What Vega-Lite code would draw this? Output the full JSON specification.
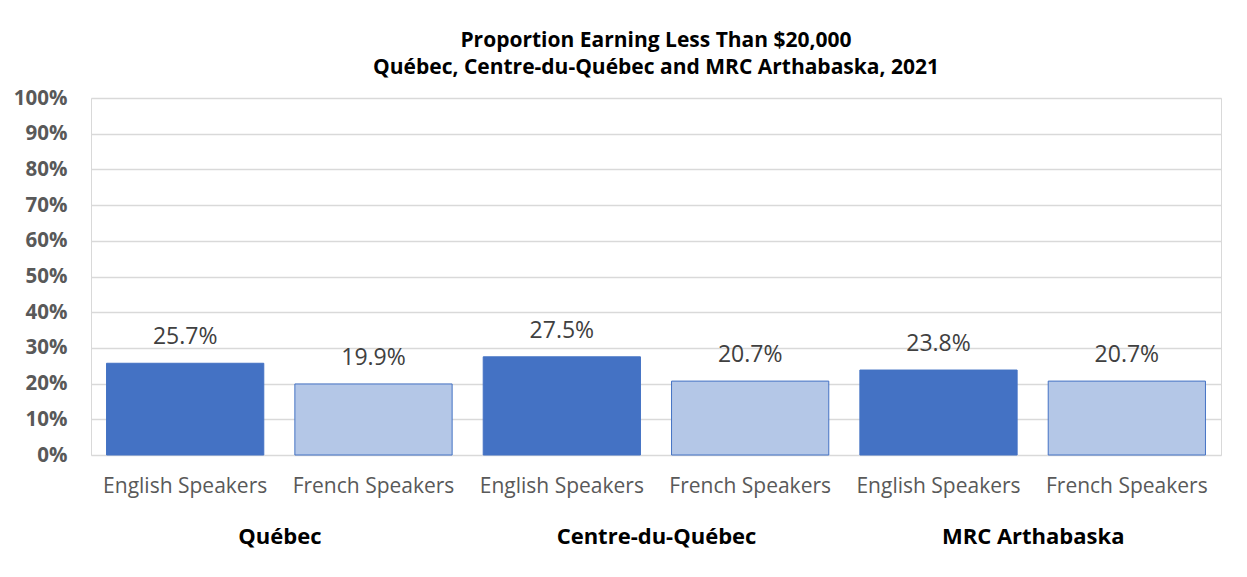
{
  "$schema": "https://vega.github.io/schema/vega-lite/v6.json",
  "width": 1130,
  "height": 357,
  "padding": {"left": 13, "top": 30, "right": 25, "bottom": 10},
  "background": "white",
  "title": {
    "text": ["Proportion Earning Less Than $20,000", "Québec, Centre-du-Québec and MRC Arthabaska,  2021"],
    "font": "Open Sans",
    "fontSize": 21,
    "fontWeight": "bold",
    "color": "#000000",
    "lineHeight": 27,
    "offset": 10,
    "anchor": "middle"
  },
  "config": {
    "view": {"stroke": "#d9d9d9", "strokeWidth": 1},
    "font": "Open Sans"
  },
  "datasets": {
    "bars": [
      {"cat": "Québec|English Speakers", "region": "Québec", "speaker": "English Speakers", "value": 0.257},
      {"cat": "Québec|French Speakers", "region": "Québec", "speaker": "French Speakers", "value": 0.199},
      {"cat": "Centre-du-Québec|English Speakers", "region": "Centre-du-Québec", "speaker": "English Speakers", "value": 0.275},
      {"cat": "Centre-du-Québec|French Speakers", "region": "Centre-du-Québec", "speaker": "French Speakers", "value": 0.207},
      {"cat": "MRC Arthabaska|English Speakers", "region": "MRC Arthabaska", "speaker": "English Speakers", "value": 0.238},
      {"cat": "MRC Arthabaska|French Speakers", "region": "MRC Arthabaska", "speaker": "French Speakers", "value": 0.207}
    ],
    "regions": [
      {"region": "Québec"},
      {"region": "Centre-du-Québec"},
      {"region": "MRC Arthabaska"}
    ]
  },
  "resolve": {"scale": {"x": "independent"}, "axis": {"x": "independent"}},
  "layer": [
    {
      "data": {"name": "bars"},
      "encoding": {
        "x": {
          "field": "cat", "type": "nominal", "sort": null,
          "scale": {"paddingInner": 0.165, "paddingOuter": 0.0825},
          "axis": {
            "title": null, "labelAngle": 0, "ticks": false, "domain": false,
            "labelExpr": "split(datum.label, '|')[1]",
            "labelFont": "Open Sans", "labelFontSize": 21, "labelColor": "#595959",
            "labelPadding": 20, "labelLimit": 0
          }
        },
        "y": {
          "field": "value", "type": "quantitative",
          "scale": {"domain": [0, 1], "nice": false},
          "axis": {
            "title": null, "format": ".0%", "values": [0, 0.1, 0.2, 0.3, 0.4, 0.5, 0.6, 0.7, 0.8, 0.9, 1],
            "labelOverlap": false, "tickCount": 12,
            "ticks": false, "domain": false,
            "gridColor": "#d9d9d9", "gridWidth": 1.3,
            "labelFont": "Open Sans", "labelFontSize": 20.5, "labelFontWeight": "bold",
            "labelColor": "#595959", "labelPadding": 24
          }
        }
      },
      "layer": [
        {
          "mark": {"type": "bar", "strokeWidth": 1},
          "encoding": {
            "color": {
              "field": "speaker", "type": "nominal", "legend": null,
              "scale": {"domain": ["English Speakers", "French Speakers"], "range": ["#4472c4", "#b4c7e7"]}
            },
            "stroke": {"value": "#4472c4"}
          }
        },
        {
          "mark": {"type": "text", "baseline": "bottom", "dy": -14, "font": "Open Sans", "fontSize": 23, "color": "#404040"},
          "encoding": {
            "text": {"field": "value", "type": "quantitative", "format": ".1%"}
          }
        }
      ]
    },
    {
      "data": {"name": "regions"},
      "mark": {"type": "text", "text": ""},
      "encoding": {
        "x": {
          "field": "region", "type": "nominal", "sort": null,
          "scale": {"paddingInner": 0, "paddingOuter": 0},
          "axis": {
            "orient": "bottom", "title": null, "labelAngle": 0, "ticks": false, "domain": false,
            "labelFont": "Open Sans", "labelFontSize": 22, "labelFontWeight": "bold",
            "labelColor": "#000000", "labelPadding": 71, "labelLimit": 0
          }
        }
      }
    }
  ]
}
